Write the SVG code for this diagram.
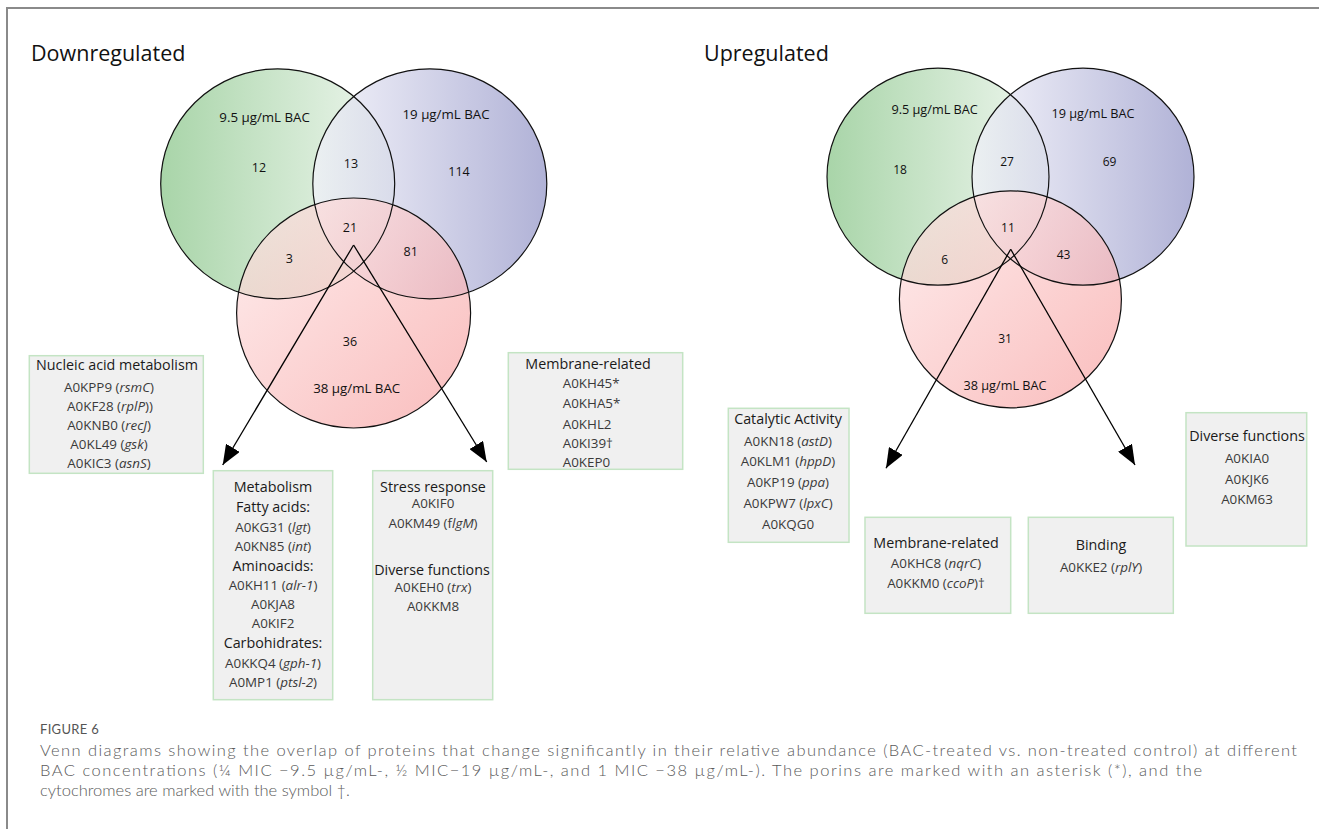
<svg xmlns="http://www.w3.org/2000/svg" width="1319" height="829" viewBox="0 0 1319 829">
<defs>
<linearGradient id="gGreen" x1="0" y1="0" x2="1" y2="0"><stop offset="0" stop-color="#9fd09f"/><stop offset="1" stop-color="#eef6ee"/></linearGradient>
<linearGradient id="gBlue" x1="0" y1="0" x2="1" y2="0"><stop offset="0" stop-color="#f2f2fa"/><stop offset="1" stop-color="#9698c9"/></linearGradient>
<linearGradient id="gRed" x1="0" y1="0" x2="1" y2="1"><stop offset="0" stop-color="#fee6e6"/><stop offset="1" stop-color="#f7a0a0"/></linearGradient>
<marker id="ah" viewBox="0 0 20 16" refX="20" refY="8" markerWidth="20" markerHeight="16" markerUnits="userSpaceOnUse" orient="auto"><path d="M0,0 L20,8 L0,16 Z" fill="#000"/></marker>
</defs>
<style>
.frame{fill:none;stroke:#8a8a8a;stroke-width:2}
.head{font-family:"Open Sans","Liberation Sans",sans-serif;font-size:21.5px;fill:#111}
.set{stroke:#111;stroke-width:1.2;fill:none}
.lbl{font-family:"Open Sans","Liberation Sans",sans-serif;font-size:13.3px;fill:#111;text-anchor:middle}
.lblR{font-family:"Open Sans","Liberation Sans",sans-serif;font-size:12.7px;fill:#111;text-anchor:middle}
.num{font-family:"Open Sans","Liberation Sans",sans-serif;font-size:12.5px;fill:#111;text-anchor:middle}
.numR{font-family:"Open Sans","Liberation Sans",sans-serif;font-size:12px;fill:#111;text-anchor:middle}
.box{fill:#f0f0f0;stroke:#c4e4c4;stroke-width:1.5}
.bt{font-family:"Open Sans","Liberation Sans",sans-serif;font-size:14.3px;font-weight:500;fill:#1a1a1a;text-anchor:middle}
.bi{font-family:"Open Sans","Liberation Sans",sans-serif;font-size:13.4px;fill:#3a3a3a;text-anchor:middle}
.bl{text-anchor:start}
.it{font-style:italic}
.arrow{stroke:#000;stroke-width:1.3;fill:none;marker-end:url(#ah)}
.figno{font-family:Lato,"Open Sans",sans-serif;font-size:13px;fill:#555;letter-spacing:0.3px}
.cap{font-family:Lato,"Open Sans",sans-serif;font-size:16.5px;font-weight:300;fill:#5a5a5a}
</style>
<rect class="frame" x="7" y="8" width="1330" height="840"/>

<text class="head" x="31" y="60.5">Downregulated</text>
<text class="head" x="704" y="60.5">Upregulated</text>

<g id="venn-down">
<g id="down-circle-95">
<ellipse cx="277.7" cy="183.8" rx="117" ry="115" fill="url(#gGreen)" fill-opacity="0.9"/>
</g>
<g id="down-circle-19">
<ellipse cx="429.8" cy="183.8" rx="117" ry="115" fill="url(#gBlue)" fill-opacity="0.75"/>
</g>
<g id="down-circle-38">
<ellipse cx="353.6" cy="313" rx="117" ry="115" fill="url(#gRed)" fill-opacity="0.7"/>
</g>
<ellipse class="set" cx="277.7" cy="183.8" rx="117" ry="115"/>
<ellipse class="set" cx="429.8" cy="183.8" rx="117" ry="115"/>
<ellipse class="set" cx="353.6" cy="313" rx="117" ry="115"/>
<text class="lbl" x="264.6" y="121.5">9.5 µg/mL BAC</text>
<text class="lbl" x="446" y="119">19 µg/mL BAC</text>
<text class="lbl" x="356.7" y="393">38 µg/mL BAC</text>
<text class="num" x="259" y="172">12</text>
<text class="num" x="351" y="168">13</text>
<text class="num" x="459" y="176">114</text>
<text class="num" x="350" y="232">21</text>
<text class="num" x="289.3" y="263">3</text>
<text class="num" x="410.7" y="256">81</text>
<text class="num" x="350" y="346">36</text>
</g>

<g id="venn-up">
<g id="up-circle-95">
<ellipse cx="938" cy="176.7" rx="111" ry="108.5" fill="url(#gGreen)" fill-opacity="0.9"/>
</g>
<g id="up-circle-19">
<ellipse cx="1083" cy="176.7" rx="111" ry="108.5" fill="url(#gBlue)" fill-opacity="0.75"/>
</g>
<g id="up-circle-38">
<ellipse cx="1010.4" cy="299.3" rx="111" ry="108.5" fill="url(#gRed)" fill-opacity="0.7"/>
</g>
<ellipse class="set" cx="938" cy="176.7" rx="111" ry="108.5"/>
<ellipse class="set" cx="1083" cy="176.7" rx="111" ry="108.5"/>
<ellipse class="set" cx="1010.4" cy="299.3" rx="111" ry="108.5"/>
<text class="lblR" x="934.6" y="114">9.5 µg/mL BAC</text>
<text class="lblR" x="1093" y="117.5">19 µg/mL BAC</text>
<text class="lblR" x="1005" y="389.5">38 µg/mL BAC</text>
<text class="numR" x="900" y="173.5">18</text>
<text class="numR" x="1007" y="165.5">27</text>
<text class="numR" x="1109.6" y="165.5">69</text>
<text class="numR" x="1007.9" y="232">11</text>
<text class="numR" x="944.6" y="264">6</text>
<text class="numR" x="1063.6" y="258.5">43</text>
<text class="numR" x="1005" y="343">31</text>
</g>

<g id="connectors">
<line class="arrow" x1="353.6" y1="245" x2="222.7" y2="465"/>
<line class="arrow" x1="353.6" y1="245" x2="486.7" y2="462"/>
<line class="arrow" x1="1010.7" y1="249.3" x2="886" y2="468.3"/>
<line class="arrow" x1="1010.7" y1="249.3" x2="1135" y2="465"/>
</g>

<g id="box-nucleic">
<rect class="box" x="29.3" y="355.7" width="174" height="117.6"/>
<text class="bt" x="117" y="370">Nucleic acid metabolism</text>
<text class="bi" x="109" y="391.5">A0KPP9 (<tspan class="it">rsmC</tspan>)</text>
<text class="bi" x="110" y="411">A0KF28 (<tspan class="it">rplP</tspan>))</text>
<text class="bi" x="109" y="430">A0KNB0 (<tspan class="it">recJ</tspan>)</text>
<text class="bi" x="109" y="449">A0KL49 (<tspan class="it">gsk</tspan>)</text>
<text class="bi" x="109" y="468">A0KIC3 (<tspan class="it">asnS</tspan>)</text>
</g>

<g id="box-metabolism">
<rect class="box" x="213.3" y="470.7" width="119.4" height="229"/>
<text class="bt" x="273" y="492">Metabolism</text>
<text class="bt" x="273" y="512">Fatty acids:</text>
<text class="bi" x="273" y="531.5">A0KG31 (<tspan class="it">lgt</tspan>)</text>
<text class="bi" x="273" y="551">A0KN85 (<tspan class="it">int</tspan>)</text>
<text class="bt" x="273" y="570.5">Aminoacids:</text>
<text class="bi" x="273" y="590">A0KH11 (<tspan class="it">alr-1</tspan>)</text>
<text class="bi" x="273" y="609">A0KJA8</text>
<text class="bi" x="273" y="628">A0KIF2</text>
<text class="bt" x="273" y="648">Carbohidrates:</text>
<text class="bi" x="273" y="667.5">A0KKQ4 (<tspan class="it">gph-1</tspan>)</text>
<text class="bi" x="273" y="687">A0MP1 (<tspan class="it">ptsl-2</tspan>)</text>
</g>

<g id="box-stress">
<rect class="box" x="372.7" y="470.7" width="120" height="229"/>
<text class="bt" x="433" y="491.5">Stress response</text>
<text class="bi" x="433" y="508">A0KIF0</text>
<text class="bi" x="433" y="527.5">A0KM49 (f<tspan class="it">lgM</tspan>)</text>
<text class="bt" x="432" y="575">Diverse functions</text>
<text class="bi" x="433" y="592">A0KEH0 (<tspan class="it">trx</tspan>)</text>
<text class="bi" x="433" y="611">A0KKM8</text>
</g>

<g id="box-membrane-down">
<rect class="box" x="508.3" y="352.7" width="174.4" height="116.6"/>
<text class="bt" x="588" y="369">Membrane-related</text>
<text class="bi bl" x="562.7" y="388">A0KH45*</text>
<text class="bi bl" x="562.7" y="408">A0KHA5*</text>
<text class="bi bl" x="562.7" y="428.5">A0KHL2</text>
<text class="bi bl" x="562.7" y="448">A0KI39†</text>
<text class="bi bl" x="562.7" y="467">A0KEP0</text>
</g>

<g id="box-catalytic">
<rect class="box" x="728.3" y="408.3" width="120.7" height="134"/>
<text class="bt" x="788" y="424">Catalytic Activity</text>
<text class="bi" x="788" y="445.5">A0KN18 (<tspan class="it">astD</tspan>)</text>
<text class="bi" x="788" y="466">A0KLM1 (<tspan class="it">hppD</tspan>)</text>
<text class="bi" x="788" y="486.5">A0KP19 (<tspan class="it">ppa</tspan>)</text>
<text class="bi" x="788" y="508">A0KPW7 (<tspan class="it">lpxC</tspan>)</text>
<text class="bi" x="788" y="528.5">A0KQG0</text>
</g>

<g id="box-membrane-up">
<rect class="box" x="865" y="517.3" width="145.7" height="96"/>
<text class="bt" x="936" y="548">Membrane-related</text>
<text class="bi" x="936" y="568">A0KHC8 (<tspan class="it">nqrC</tspan>)</text>
<text class="bi" x="936" y="588">A0KKM0 (<tspan class="it">ccoP</tspan>)†</text>
</g>

<g id="box-binding">
<rect class="box" x="1028.3" y="517.3" width="145" height="96"/>
<text class="bt" x="1101" y="550">Binding</text>
<text class="bi" x="1101" y="572">A0KKE2 (<tspan class="it">rplY</tspan>)</text>
</g>

<g id="box-diverse-up">
<rect class="box" x="1186" y="412.7" width="120.7" height="133.3"/>
<text class="bt" x="1247" y="441">Diverse functions</text>
<text class="bi" x="1247" y="463">A0KIA0</text>
<text class="bi" x="1247" y="484">A0KJK6</text>
<text class="bi" x="1247" y="504">A0KM63</text>
</g>

<text class="figno" x="40" y="734">FIGURE 6</text>
<text class="cap" x="40" y="756" textLength="1257" lengthAdjust="spacing">Venn diagrams showing the overlap of proteins that change significantly in their relative abundance (BAC-treated vs. non-treated control) at different</text>
<text class="cap" x="40" y="776" textLength="1162" lengthAdjust="spacing">BAC concentrations (¼ MIC −9.5 µg/mL-, ½ MIC−19 µg/mL-, and 1 MIC −38 µg/mL-). The porins are marked with an asterisk (*), and the</text>
<text class="cap" x="40" y="796">cytochromes are marked with the symbol †.</text>
</svg>
